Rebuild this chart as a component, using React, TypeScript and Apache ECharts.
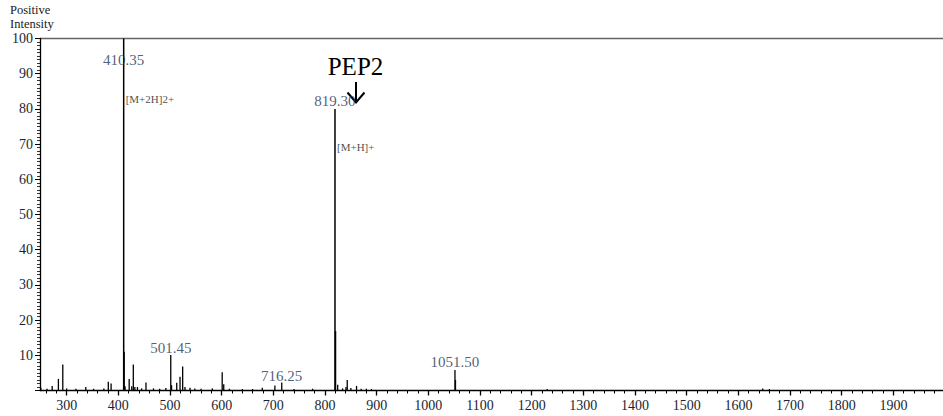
import React, { useEffect, useRef } from "react";
import * as echarts from "echarts";

// m/z of each peak and its relative intensity (%)
const mzValues = [
  250, 262, 272, 284, 292.5, 300, 318, 337, 352, 372, 380.6, 386, 410.35, 411.35, 413, 421, 426, 429, 432,
  437, 445, 453.5, 468, 480, 492, 501.45, 503, 513, 519.4, 524.5, 529, 538.7, 548, 560, 582, 601, 604, 615,
  640, 660, 678.6, 703, 716.25, 740, 776, 819.3, 820.3, 824.5, 834, 840.6, 843, 850, 861, 870, 880, 890,
  1051.5, 1052.5, 1230, 1647, 1660,
];
const intensities = [
  0.8, 0.5, 1.3, 3.3, 7.4, 0.6, 0.5, 1.0, 0.5, 0.6, 2.5, 2.0, 100, 11, 1.2, 3.3, 1.2, 7.4, 1.0,
  1.0, 0.6, 2.3, 0.6, 0.5, 0.7, 10.1, 1.5, 2.2, 3.9, 6.8, 1.0, 0.8, 0.6, 0.5, 0.6, 5.2, 1.8, 0.5,
  0.4, 0.4, 0.8, 1.4, 2.3, 0.4, 0.5, 80, 16.9, 1.6, 0.6, 1.0, 3.0, 0.7, 1.3, 0.5, 0.5, 0.4,
  5.8, 3.0, 0.4, 0.6, 0.4,
];

// peak annotations: m/z, anchor height (%), text
const peakLabelMz = [410.35, 819.3, 501.45, 716.25, 1051.5];
const peakLabelY = [93.9, 82.3, 12.2, 4.1, 8.1];
const peakLabelText = ["410.35", "819.30", "501.45", "716.25", "1051.50"];

const ionLabelMz = [410.35, 819.3];
const ionLabelY = [82.8, 69.2];
const ionLabelText = ["[M+2H]2+", "[M+H]+"];

const yTitle = "Positive\nIntensity";
const calloutText = "PEP2";

const xMajorTicks = [300, 400, 500, 600, 700, 800, 900, 1000, 1100, 1200, 1300, 1400, 1500, 1600, 1700, 1800, 1900];
const xMinorTicks: number[] = [];
for (let v = 260; v <= 1980; v += 20) if (v % 100 !== 0) xMinorTicks.push(v);

const X_MIN = 248.4;
const X_MAX = 1996;
const FONT = "Liberation Serif";
const TEXT = "#1a1f33";

export default function App() {
  const ref = useRef<HTMLDivElement>(null);
  useEffect(() => {
    if (!ref.current) return;
    const chart = echarts.init(ref.current, undefined, { renderer: "svg" });
    const peaks = mzValues.map((m, i) => [m, intensities[i]]);
    const labels = peakLabelMz.map((m, i) => [m, peakLabelY[i], peakLabelText[i]]);
    const ions = ionLabelMz.map((m, i) => [m, ionLabelY[i], ionLabelText[i]]);
    chart.setOption({
      animation: false,
      textStyle: { fontFamily: FONT },
      grid: { left: 40, right: 0, top: 38.5, bottom: 25.5, containLabel: false },
      xAxis: [
        {
          type: "value",
          min: X_MIN,
          max: X_MAX,
          splitLine: { show: false },
          axisLine: { show: true, lineStyle: { color: "#000", width: 1.3 } },
          axisTick: { show: true, customValues: xMajorTicks, length: 5, lineStyle: { color: "#000", width: 1.3 } },
          axisLabel: {
            show: true,
            customValues: xMajorTicks,
            margin: 8,
            fontFamily: FONT,
            fontSize: 14,
            color: TEXT,
            formatter: (v: number) => String(Math.round(v)),
          },
        },
        {
          type: "value",
          min: X_MIN,
          max: X_MAX,
          position: "bottom",
          splitLine: { show: false },
          axisLine: { show: false },
          axisTick: { show: true, customValues: xMinorTicks, length: 3, lineStyle: { color: "#000", width: 1 } },
          axisLabel: { show: false },
        },
      ],
      yAxis: {
        type: "value",
        min: 0,
        max: 100,
        interval: 10,
        splitLine: { show: false },
        axisLine: { show: true, lineStyle: { color: "#000", width: 1.3 } },
        axisTick: { show: true, length: 5, lineStyle: { color: "#000", width: 1 } },
        minorTick: { show: true, splitNumber: 10, length: 3, lineStyle: { color: "#000", width: 0.8 } },
        axisLabel: {
          margin: 7,
          fontFamily: FONT,
          fontSize: 14,
          color: TEXT,
          formatter: (v: number) => (v === 0 ? "" : String(v)),
        },
      },
      series: [
        {
          type: "custom",
          data: peaks,
          renderItem: (params: any, api: any) => {
            const x = api.value(0);
            const y = api.value(1);
            const top = api.coord([x, y]);
            const base = api.coord([x, 0]);
            return {
              type: "line",
              shape: { x1: top[0], y1: top[1], x2: base[0], y2: base[1] },
              style: { stroke: "#000", lineWidth: y > 15 ? 1.5 : 1.3 },
            };
          },
          z: 2,
        },
        {
          type: "scatter",
          data: labels,
          symbolSize: 0,
          silent: true,
          label: {
            show: true,
            position: "inside",
            formatter: (p: any) => p.data[2],
            fontFamily: FONT,
            fontSize: 15,
            color: "#263656",
          },
          z: 3,
        },
        {
          type: "scatter",
          data: ions,
          symbolSize: 0,
          silent: true,
          label: {
            show: true,
            position: "right",
            distance: 2,
            formatter: (p: any) => p.data[2],
            fontFamily: FONT,
            fontSize: 11,
            color: "#1a1a1a",
          },
          z: 3,
        },
      ],
      graphic: [
        {
          type: "line",
          shape: { x1: 40, y1: 38.5, x2: 943, y2: 38.5 },
          style: { stroke: "#666", lineWidth: 1.5 },
        },
        {
          type: "text",
          x: 10,
          y: 3,
          style: { text: yTitle, fontFamily: FONT, fontSize: 12.5, fill: "#1a1a1a", lineHeight: 14 },
        },
        {
          type: "text",
          x: 355.5,
          y: 66,
          style: { text: calloutText, fontFamily: FONT, fontSize: 25, fill: "#000", align: "center", verticalAlign: "middle" },
        },
        {
          type: "line",
          shape: { x1: 356, y1: 82, x2: 356, y2: 102 },
          style: { stroke: "#000", lineWidth: 2 },
        },
        {
          type: "polyline",
          shape: { points: [[347.5, 92.5], [356, 102.5], [364.5, 92.5]] },
          style: { stroke: "#000", lineWidth: 2, fill: "none" },
        },
      ],
    });
    return () => chart.dispose();
  }, []);
  return (
    <div
      ref={ref}
      style={{ position: "absolute", left: 0, top: 0, width: 943, height: 416, background: "#fff" }}
    />
  );
}
